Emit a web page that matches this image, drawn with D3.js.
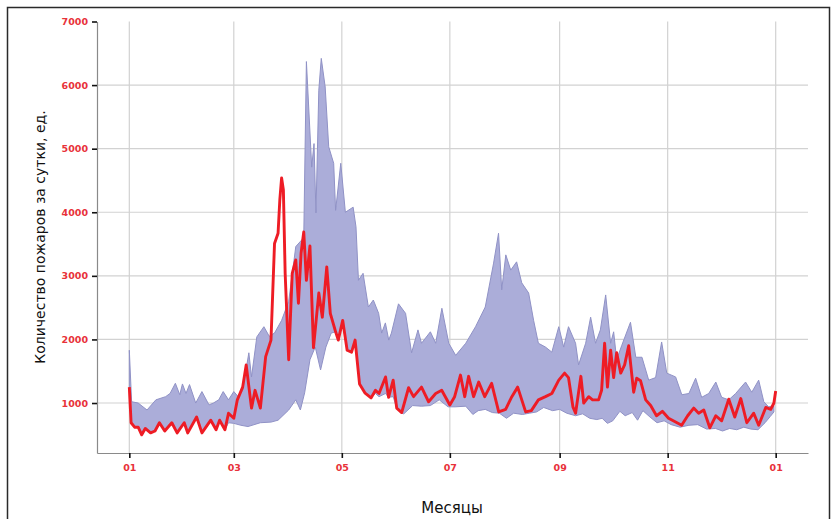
<!DOCTYPE html>
<html>
<head>
<meta charset="utf-8">
<script src="https://cdn.jsdelivr.net/npm/d3@7"></script>
<style>
  body { margin: 0; background: #fff; }
  svg { display: block; }
</style>
</head>
<body>
<div id="chart"></div>
<script>
// Day-of-year offsets (from 1 January) and values.
const upperDays = [0, 1.3, 5, 10, 15, 20.5, 23, 26, 28.5, 30, 32, 34, 37.5, 41, 45, 47.5, 50.5, 53, 56, 59, 61.5, 64, 67.5, 69, 72, 76, 79, 82, 86, 90, 94, 98.5, 100, 103, 104.3, 105.4, 107, 108.4, 110.6, 112.6, 115.4, 116.5, 119.4, 122, 126.4, 128, 129.4, 132, 135, 137.8, 140.8, 142.5, 144.6, 146.5, 148, 152, 156, 159.4, 163, 165, 170, 173, 176.5, 180.4, 184.3, 190, 195.5, 201, 205.7, 208.5, 210.3, 212.6, 215.4, 218.7, 221.6, 225.5, 228.3, 231, 235, 238.6, 242.5, 245.3, 248, 252, 253.7, 257.7, 260.5, 263.3, 266, 269, 271.8, 273.5, 275.2, 278, 283, 286, 289.5, 293.3, 297.2, 300.6, 303.5, 308.5, 312, 316, 319.8, 323.2, 327.2, 331.2, 334.5, 338.5, 342.4, 348, 351.5, 355.4, 358.3, 361, 364];
const upperVals = [1830, 1020, 1000, 890, 1050, 1100, 1150, 1310, 1130, 1300, 1150, 1290, 1000, 1180, 970, 1000, 1050, 1180, 1050, 1180, 1100, 1200, 1790, 1410, 2040, 2200, 2050, 2100, 2300, 2600, 3460, 3600, 6370, 4710, 5080, 3990, 5920, 6420, 5970, 5030, 4770, 4030, 4770, 4000, 4080, 3770, 2930, 3040, 2510, 2620, 2410, 2100, 2260, 1990, 2100, 2560, 2410, 1790, 2150, 1940, 2120, 1940, 2490, 1940, 1750, 1940, 2200, 2510, 3200, 3670, 2780, 3330, 3090, 3220, 2890, 2730, 2300, 1940, 1880, 1800, 2200, 1880, 2200, 1940, 1600, 1940, 2350, 1940, 2150, 2700, 1940, 2120, 1680, 1900, 2270, 1720, 1720, 1360, 1400, 1960, 1470, 1410, 1130, 1150, 1390, 1090, 1150, 1330, 1090, 1050, 1150, 1330, 1170, 1360, 1020, 940, 960];

const lowerDays = [0, 1, 3, 5, 7, 9, 12, 14.5, 17, 20, 24, 27, 31, 33, 38, 41, 46, 49, 51, 54, 56, 59, 63, 67, 74, 80, 84, 90, 94, 96.6, 99, 102, 105, 108, 111, 114, 116.5, 118, 120.5, 123, 125.5, 127.5, 130, 133, 136.5, 139, 141, 144.7, 146.4, 149, 151, 153.8, 155, 160, 165, 170, 175, 180, 184, 190, 194, 197, 201, 205, 209, 213, 217, 222, 226, 230, 234, 239, 243, 247, 252, 256, 260, 264, 267, 270, 273, 277, 280, 284, 287, 290, 294, 298, 302, 306, 311, 316, 321, 326, 331, 335, 339, 343, 347, 351, 355, 359, 362, 364];
const lowerVals = [1250, 690, 620, 620, 500, 600, 530, 560, 690, 560, 690, 530, 690, 530, 780, 530, 730, 580, 730, 580, 690, 680, 650, 630, 690, 700, 730, 890, 1050, 890, 1160, 1680, 1880, 1520, 1880, 2100, 2120, 1990, 2250, 1830, 1800, 1950, 1300, 1160, 1080, 1150, 1100, 1150, 1090, 1100, 920, 840, 830, 960, 950, 960, 1050, 940, 940, 950, 820, 880, 900, 850, 840, 760, 840, 820, 840, 860, 930, 880, 900, 840, 800, 830, 760, 740, 760, 680, 720, 870, 800, 850, 730, 880, 780, 690, 720, 660, 620, 650, 660, 590, 600, 560, 600, 580, 620, 590, 580, 690, 790, 860];

const redDays = [0, 1, 3, 5, 7, 9, 12, 14.5, 17, 20, 24, 27, 31, 33, 38, 41, 46, 49, 51, 54, 56, 59, 61, 64, 66, 69, 71, 74, 77, 80, 82, 84, 85, 86, 87, 88, 90, 92, 94, 95.5, 97, 98.5, 100, 102, 104, 107, 109, 111.5, 113.5, 116.5, 118, 120.5, 123, 125.5, 127.5, 130, 133, 136.5, 139, 141, 144.7, 146.4, 149, 151, 153.8, 157.7, 160.5, 165, 169, 173, 176.4, 181, 183.7, 187, 189.4, 191.6, 194.4, 197.3, 200.7, 204.6, 208.6, 212.5, 216, 219.3, 223.8, 227, 231, 235, 238.6, 242.5, 245.8, 248, 250.5, 252, 255, 256.6, 259.4, 261.6, 265, 266.7, 268.4, 270, 271.8, 273.5, 275.2, 277.5, 279.7, 282, 284.8, 286.5, 288.7, 291.6, 294.4, 297.7, 301, 304.5, 308.5, 311.9, 315.3, 318.7, 321.5, 324.4, 327.8, 331.2, 334.5, 338.5, 341.9, 345.3, 348.7, 352.6, 355.4, 359.4, 362.2, 364, 365];
const redVals = [1250, 690, 620, 620, 500, 600, 530, 560, 690, 560, 690, 530, 690, 530, 780, 530, 730, 580, 730, 580, 840, 760, 1050, 1250, 1600, 920, 1200, 920, 1730, 1990, 3510, 3670, 4200, 4540, 4350, 3040, 1680, 3040, 3250, 2570, 3360, 3690, 2930, 3470, 1870, 2730, 2350, 3140, 2410, 2120, 1990, 2300, 1830, 1800, 1990, 1300, 1160, 1080, 1200, 1150, 1410, 1090, 1360, 920, 850, 1240, 1100, 1250, 1020, 1150, 1200, 970, 1100, 1440, 1100, 1420, 1100, 1330, 1100, 1310, 860, 900, 1100, 1250, 860, 880, 1050, 1100, 1150, 1360, 1470, 1400, 940, 840, 1420, 1000, 1100, 1050, 1050, 1200, 1940, 1250, 1830, 1400, 1790, 1470, 1600, 1900, 1170, 1390, 1350, 1050, 960, 800, 870, 760, 700, 650, 800, 920, 840, 890, 610, 800, 720, 1060, 780, 1070, 690, 840, 650, 930, 900, 1000, 1190];

const yTicks = [1000, 2000, 3000, 4000, 5000, 6000, 7000];
const yTitle = 'Количество пожаров за сутки, ед.';
const xTitle = 'Месяцы';

const START = Date.UTC(2021, 0, 1);
const toDate = (d) => new Date(START + d * 864e5);
const pts = (days, vals) => days.map((d, i) => [toDate(d), vals[i]]);

const width = 831, height = 519;
const MARGIN = { left: 97, right: 23, top: 21.5, bottom: 66 };
const iw = width - MARGIN.left - MARGIN.right;
const ih = height - MARGIN.top - MARGIN.bottom;

const svg = d3.select('#chart').append('svg')
    .attr('width', width).attr('height', height)
    .style('font-family', '"DejaVu Sans", sans-serif');

// outer frame
svg.append('rect')
    .attr('x', 7.5).attr('y', 7.5).attr('width', 822).attr('height', 540)
    .attr('fill', 'none').attr('stroke', '#2a2a2a').attr('stroke-width', 1.5);

const g = svg.append('g').attr('transform', `translate(${MARGIN.left},${MARGIN.top})`);

// 5% padding on each side of the year, like the source plot
const x = d3.scaleUtc().domain([toDate(-18.25), toDate(383.25)]).range([0, iw]);
const y = d3.scaleLinear().domain([214, 7000]).range([ih, 0]);
const xTicks = x.ticks(d3.utcMonth.every(2));

// Gridlines
g.append('g').selectAll('line').data(yTicks.filter((v) => v < 7000)).enter().append('line')
    .attr('x1', 0).attr('x2', iw)
    .attr('y1', (v) => y(v)).attr('y2', (v) => y(v))
    .attr('stroke', '#d2d2d2').attr('stroke-width', 1.2);
g.append('g').selectAll('line').data(xTicks).enter().append('line')
    .attr('x1', (d) => x(d)).attr('x2', (d) => x(d))
    .attr('y1', 0).attr('y2', ih)
    .attr('stroke', '#d2d2d2').attr('stroke-width', 1.2);

// Band: upper edge forward, lower edge back
const line = d3.line().x((p) => x(p[0])).y((p) => y(p[1]));
const upper = pts(upperDays, upperVals);
const lower = pts(lowerDays, lowerVals).reverse();
const bandPath = line(upper) + line(lower).replace(/^M/, 'L') + 'Z';
g.append('path')
    .attr('d', bandPath)
    .attr('fill', '#abadd9')
    .attr('stroke', '#9092c6')
    .attr('stroke-width', 1)
    .attr('stroke-linejoin', 'round');

// Red series
g.append('path')
    .attr('d', line(pts(redDays, redVals)))
    .attr('fill', 'none')
    .attr('stroke', '#ee1c25')
    .attr('stroke-width', 2.9)
    .attr('stroke-linejoin', 'round');

// Axes
const styleAxis = (sel) => {
    sel.select('.domain').attr('stroke', '#8a8a8a').attr('stroke-width', 1.2);
    sel.selectAll('.tick line').attr('stroke', '#111').attr('stroke-width', 1.6);
    sel.selectAll('.tick text')
        .attr('fill', '#e8323a')
        .style('font-size', '9.5px')
        .style('font-weight', 'bold')
        .style('font-family', '"DejaVu Sans", sans-serif');
};
g.append('g').attr('transform', `translate(0,${ih})`)
    .call(d3.axisBottom(x).tickValues(xTicks).tickFormat(d3.utcFormat('%m'))
        .tickSize(5).tickSizeOuter(0).tickPadding(6))
    .call(styleAxis);
g.append('g')
    .call(d3.axisLeft(y).tickValues(yTicks).tickFormat(d3.format('d'))
        .tickSize(5).tickSizeOuter(0).tickPadding(4))
    .call(styleAxis);

// Titles
svg.append('text')
    .attr('transform', 'translate(45,237) rotate(-90)')
    .attr('text-anchor', 'middle')
    .attr('fill', '#111').style('font-size', '14px')
    .text(yTitle);
svg.append('text')
    .attr('x', 452).attr('y', 513)
    .attr('text-anchor', 'middle')
    .attr('fill', '#111').style('font-size', '15px')
    .text(xTitle);
</script>
</body>
</html>
